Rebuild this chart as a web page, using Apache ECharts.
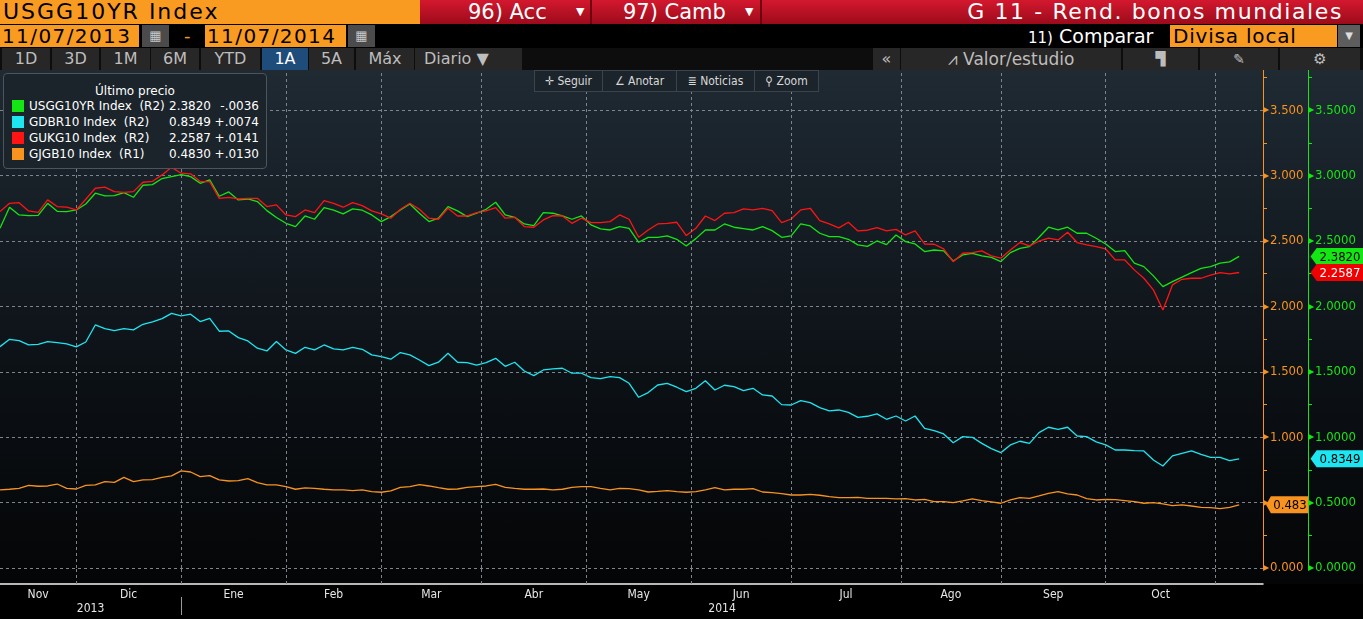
<!DOCTYPE html>
<html>
<head>
<meta charset="utf-8">
<title>G 11 - Rend. bonos mundiales</title>
<script src="https://cdn.jsdelivr.net/npm/echarts@6/dist/echarts.min.js"></script>
<style>
  html, body { margin: 0; padding: 0; background: #000; width: 1363px; height: 619px; overflow: hidden;
    font-family: "DejaVu Sans", sans-serif; }
  .abs { position: absolute; box-sizing: border-box; white-space: pre; }
  .orange { background: #f99b20; color: #000; }
  .tab { top: 48px; height: 22px; background: #272727; color: #bdbdbd; font-size: 16px; line-height: 22px; text-align: center; }
  .tab.on { background: #1e4d7b; color: #fff; }
  .tool { top: 71px; height: 20px; color: #d8d8d8; font-size: 12px; line-height: 20px; text-align: center;
    border-right: 1px solid #3b444c; font-family: "DejaVu Sans Condensed", "DejaVu Sans", sans-serif; }
  #chart { position: absolute; left: 0; top: 70px; width: 1363px; height: 549px;
    background: linear-gradient(to bottom, #1f2a33 0px, #0c1116 300px, #040506 514px, #000 514px, #000 549px); }
  #legend { left: 3px; top: 73px; width: 264px; height: 96px; background: #1b242b; border: 1px solid #4d545a;
    border-radius: 4px; color: #fff; font-size: 12px; z-index: 3; }
  #legend span { position: absolute; white-space: pre; line-height: 16px; }
</style>
</head>
<body>

<!-- header row -->
<div class="abs orange" style="left:0;top:0;width:420px;height:24px;font-size:22px;line-height:24px;padding-left:3px;letter-spacing:2px;">USGG10YR Index</div>
<div class="abs" style="left:420px;top:0;width:943px;height:24px;background:linear-gradient(#d3182e,#9c0b1b);"></div>
<div class="abs" style="left:590px;top:0;width:2px;height:24px;background:#6e0010;"></div>
<div class="abs" style="left:760px;top:0;width:2px;height:24px;background:#6e0010;"></div>
<div class="abs" style="left:468px;top:0;height:24px;color:#fff;font-size:21px;line-height:24px;">96) Acc</div>
<div class="abs" style="left:576px;top:0;height:24px;color:#fff;font-size:11px;line-height:24px;">▼</div>
<div class="abs" style="left:623px;top:0;height:24px;color:#fff;font-size:21px;line-height:24px;">97) Camb</div>
<div class="abs" style="left:745px;top:0;height:24px;color:#fff;font-size:11px;line-height:24px;">▼</div>
<div class="abs" style="left:880px;top:0;width:463px;height:24px;color:#fff;font-size:22px;line-height:24px;text-align:right;letter-spacing:1.6px;">G 11 - Rend. bonos mundiales</div>

<!-- date row -->
<div class="abs orange" style="left:0;top:25px;width:139px;height:22px;font-size:20px;line-height:22px;padding-left:2px;letter-spacing:1.4px;">11/07/2013</div>
<div class="abs" style="left:142px;top:25px;width:27px;height:22px;background:#4b4b4b;color:#c8c8c8;font-size:13px;line-height:22px;text-align:center;">▦</div>
<div class="abs" style="left:184px;top:25px;height:22px;color:#f99b20;font-size:18px;line-height:22px;">-</div>
<div class="abs orange" style="left:205px;top:25px;width:141px;height:22px;font-size:20px;line-height:22px;padding-left:2px;letter-spacing:1.4px;">11/07/2014</div>
<div class="abs" style="left:348px;top:25px;width:27px;height:22px;background:#4b4b4b;color:#c8c8c8;font-size:13px;line-height:22px;text-align:center;">▦</div>
<div class="abs" style="left:1028px;top:25px;height:22px;color:#fff;line-height:22px;"><span style="font-size:15px;">11)</span><span style="font-size:19px;"> Comparar</span></div>
<div class="abs orange" style="left:1170px;top:25px;width:167px;height:22px;font-size:20px;line-height:22px;padding-left:3px;letter-spacing:0.8px;">Divisa local</div>
<div class="abs" style="left:1338px;top:25px;width:22px;height:22px;background:#5d5d5d;color:#ddd;font-size:10px;line-height:22px;text-align:center;">▼</div>

<!-- period tabs -->
<div class="abs" style="left:0;top:48px;width:1363px;height:22px;background:#0d0d0d;"></div>
<div class="abs tab" style="left:2px;width:48px;">1D</div>
<div class="abs tab" style="left:52px;width:47px;">3D</div>
<div class="abs tab" style="left:101px;width:49px;">1M</div>
<div class="abs tab" style="left:151px;width:48px;">6M</div>
<div class="abs tab" style="left:201px;width:59px;">YTD</div>
<div class="abs tab on" style="left:262px;width:46px;">1A</div>
<div class="abs tab" style="left:309px;width:45px;">5A</div>
<div class="abs tab" style="left:356px;width:58px;">Máx</div>
<div class="abs tab" style="left:415px;width:107px;text-align:left;padding-left:9px;">Diario ▼</div>
<div class="abs tab" style="left:873px;width:27px;">«</div>
<div class="abs tab" style="left:901px;width:220px;font-size:17px;">⩘ Valor/estudio</div>
<div class="abs tab" style="left:1123px;width:75px;font-size:13px;">▜</div>
<div class="abs tab" style="left:1200px;width:78px;font-size:14px;">✎</div>
<div class="abs tab" style="left:1280px;width:80px;font-size:15px;">⚙</div>

<div id="chart"></div>

<!-- chart toolbar -->
<div class="abs" style="left:534px;top:70px;width:285px;height:22px;background:#1c242b;border:1px solid #3b444c;z-index:3;"></div>
<div class="abs tool" style="left:535px;width:68px;z-index:4;">✛ Seguir</div>
<div class="abs tool" style="left:603px;width:74px;z-index:4;">∠ Anotar</div>
<div class="abs tool" style="left:677px;width:78px;z-index:4;">≣ Noticias</div>
<div class="abs tool" style="left:755px;width:63px;z-index:4;border-right:none;">⚲ Zoom</div>

<div id="legend" class="abs"></div>

<script>
// 10Y yields, one reading every 2 trading days starting 11/07/2013
const dayStep = 2;
const usYields = [
  2.597, 2.758, 2.699, 2.694, 2.696, 2.788, 2.727, 2.725, 2.737, 2.783, 2.865, 2.844, 2.847, 2.870, 2.834, 2.926, 2.931,
  2.977, 2.992, 3.007, 2.992, 2.941, 2.967, 2.842, 2.875, 2.814, 2.821, 2.801, 2.732, 2.679, 2.635, 2.610, 2.691, 2.666,
  2.755, 2.735, 2.707, 2.745, 2.735, 2.699, 2.648, 2.686, 2.737, 2.783, 2.712, 2.648, 2.674, 2.763, 2.730, 2.686, 2.712,
  2.742, 2.796, 2.699, 2.681, 2.630, 2.618, 2.717, 2.712, 2.691, 2.666, 2.691, 2.623, 2.592, 2.584, 2.610, 2.597,
  2.490, 2.528, 2.528, 2.539, 2.513, 2.462, 2.518, 2.584, 2.584, 2.630, 2.605, 2.595, 2.584, 2.610, 2.579, 2.528,
  2.539, 2.630, 2.615, 2.559, 2.533, 2.533, 2.513, 2.470, 2.459, 2.500, 2.472, 2.546, 2.495, 2.477, 2.419, 2.431,
  2.424, 2.347, 2.393, 2.406, 2.386, 2.375, 2.342, 2.411, 2.444, 2.457, 2.528, 2.605, 2.584, 2.605, 2.559, 2.559,
  2.521, 2.477, 2.419, 2.426, 2.330, 2.304, 2.233, 2.151, 2.189, 2.223, 2.258, 2.291, 2.304, 2.330, 2.340, 2.382
];
const deYields = [
  1.692, 1.748, 1.738, 1.705, 1.710, 1.731, 1.723, 1.713, 1.690, 1.728, 1.858, 1.830, 1.815, 1.830, 1.820, 1.863, 1.881,
  1.906, 1.947, 1.927, 1.940, 1.884, 1.909, 1.810, 1.812, 1.761, 1.736, 1.680, 1.659, 1.731, 1.667, 1.641, 1.687, 1.667,
  1.705, 1.675, 1.667, 1.687, 1.672, 1.629, 1.616, 1.596, 1.647, 1.629, 1.590, 1.547, 1.573, 1.641, 1.573, 1.570, 1.550,
  1.570, 1.603, 1.542, 1.573, 1.506, 1.471, 1.514, 1.522, 1.527, 1.489, 1.489, 1.455, 1.448, 1.463, 1.455, 1.412,
  1.305, 1.341, 1.399, 1.412, 1.382, 1.348, 1.374, 1.432, 1.361, 1.397, 1.387, 1.356, 1.374, 1.323, 1.315, 1.249,
  1.246, 1.280, 1.264, 1.226, 1.201, 1.208, 1.190, 1.152, 1.160, 1.178, 1.137, 1.162, 1.124, 1.162, 1.068, 1.050,
  1.025, 0.958, 1.004, 0.999, 0.953, 0.913, 0.882, 0.941, 0.969, 0.953, 1.035, 1.076, 1.060, 1.076, 1.009, 1.004,
  0.964, 0.941, 0.902, 0.902, 0.897, 0.895, 0.826, 0.780, 0.857, 0.877, 0.895, 0.869, 0.846, 0.846, 0.821, 0.835
];
const ukYields = [
  2.725, 2.788, 2.793, 2.730, 2.719, 2.814, 2.763, 2.758, 2.737, 2.819, 2.903, 2.911, 2.877, 2.872, 2.877, 2.949, 2.956,
  3.005, 3.063, 3.018, 3.013, 2.954, 2.954, 2.826, 2.834, 2.821, 2.826, 2.826, 2.763, 2.776, 2.699, 2.686, 2.737, 2.717,
  2.809, 2.788, 2.758, 2.793, 2.770, 2.730, 2.707, 2.674, 2.742, 2.788, 2.742, 2.674, 2.666, 2.750, 2.691, 2.691, 2.717,
  2.730, 2.755, 2.674, 2.681, 2.610, 2.605, 2.661, 2.694, 2.691, 2.635, 2.674, 2.640, 2.640, 2.648, 2.699, 2.666,
  2.528, 2.584, 2.630, 2.635, 2.643, 2.541, 2.597, 2.691, 2.656, 2.712, 2.717, 2.745, 2.737, 2.750, 2.732, 2.640,
  2.668, 2.737, 2.750, 2.656, 2.630, 2.600, 2.643, 2.577, 2.582, 2.602, 2.577, 2.589, 2.546, 2.577, 2.477, 2.475,
  2.439, 2.342, 2.406, 2.411, 2.424, 2.386, 2.368, 2.431, 2.488, 2.462, 2.498, 2.521, 2.508, 2.567, 2.488, 2.470,
  2.457, 2.439, 2.355, 2.355, 2.279, 2.215, 2.126, 1.973, 2.164, 2.207, 2.215, 2.215, 2.238, 2.258, 2.248, 2.259
];
const jpYields = [
  0.597, 0.602, 0.609, 0.632, 0.625, 0.627, 0.642, 0.609, 0.604, 0.632, 0.635, 0.660, 0.655, 0.693, 0.660, 0.673, 0.676,
  0.693, 0.704, 0.742, 0.734, 0.699, 0.706, 0.673, 0.665, 0.668, 0.683, 0.653, 0.635, 0.635, 0.622, 0.602, 0.612, 0.609,
  0.602, 0.597, 0.597, 0.592, 0.597, 0.584, 0.579, 0.589, 0.617, 0.622, 0.637, 0.627, 0.614, 0.602, 0.604, 0.617, 0.622,
  0.627, 0.640, 0.617, 0.609, 0.602, 0.602, 0.604, 0.597, 0.602, 0.617, 0.622, 0.622, 0.609, 0.597, 0.609, 0.607,
  0.597, 0.581, 0.586, 0.592, 0.584, 0.579, 0.584, 0.597, 0.614, 0.597, 0.602, 0.602, 0.607, 0.581, 0.576, 0.569,
  0.558, 0.558, 0.563, 0.556, 0.546, 0.538, 0.538, 0.540, 0.533, 0.533, 0.533, 0.528, 0.530, 0.520, 0.525, 0.507,
  0.507, 0.500, 0.513, 0.528, 0.515, 0.505, 0.495, 0.520, 0.538, 0.533, 0.551, 0.571, 0.584, 0.566, 0.558, 0.530,
  0.520, 0.525, 0.523, 0.515, 0.507, 0.495, 0.500, 0.490, 0.477, 0.482, 0.474, 0.464, 0.462, 0.454, 0.464, 0.483
];

// legend data
const seriesNames = ["USGG10YR Index", "GDBR10 Index", "GUKG10 Index", "GJGB10 Index"];
const seriesAxes = ["(R2)", "(R2)", "(R2)", "(R1)"];
const lastPrices = ["2.3820", "0.8349", "2.2587", "0.4830"];
const dayChanges = ["-.0036", "+.0074", "+.0141", "+.0130"];
const seriesColors = ["#14e614", "#1ee6f0", "#ff1414", "#f7931e"];

// x axis, in trading days since 11/07/2013
const dayMax = 265;
const monthStarts = [16, 38, 60, 80, 101, 123, 145, 166, 189, 210, 232, 255];
const monthNames = ["Nov", "Dic", "Ene", "Feb", "Mar", "Abr", "May", "Jun", "Jul", "Ago", "Sep", "Oct"];
const yearNames = ["2013", "2014"];
const yearStarts = [0, 38];

const NARROW = "'DejaVu Sans Condensed', 'Liberation Sans Narrow', 'DejaVu Sans', sans-serif";
const GRID_COLOR = "#7d848b";

function buildLegend() {
  let html = `<span style="left:0;width:262px;top:9px;text-align:center;">Último precio</span>`;
  for (let i = 0; i < seriesNames.length; i++) {
    let top = 24 + i * 16;
    html += `<span style="left:8px;top:${top + 2}px;width:12px;height:12px;background:${seriesColors[i]};"></span>`;
    html += `<span style="left:25px;top:${top}px;">${seriesNames[i]}  ${seriesAxes[i]}</span>`;
    html += `<span style="left:150px;width:57px;top:${top}px;text-align:right;">${lastPrices[i]}</span>`;
    html += `<span style="left:205px;width:50px;top:${top}px;text-align:right;">${dayChanges[i]}</span>`;
  }
  document.getElementById("legend").innerHTML = html;
}

function toPoints(values) {
  return values.map((v, i) => [i * dayStep, v]);
}

// price box pinned to the right axes
function priceBox(value, text, color, textColor, width, offsetX) {
  return {
    symbol: "path://M0,8 L7,0 L60,0 L60,16 L7,16 Z",
    symbolSize: [width, 17],
    symbolOffset: [offsetX, 0],
    symbolKeepAspect: false,
    data: [{ coord: [dayMax, value], value: value }],
    itemStyle: { color: color },
    label: {
      show: true,
      position: "inside",
      offset: [3, 1],
      formatter: text,
      color: textColor,
      fontSize: 13,
      fontFamily: NARROW
    }
  };
}

function rightAxis(color, digits, offset, withGrid) {
  return {
    type: "value",
    position: "right",
    offset: offset,
    min: 0,
    max: 3.807,
    interval: 0.5,
    axisLine: { show: true, onZero: false, lineStyle: { color: color, width: 1 } },
    axisTick: { show: false },
    minorTick: { show: true, splitNumber: 2, length: 4, lineStyle: { color: color } },
    axisLabel: {
      showMaxLabel: false,
      margin: 0,
      formatter: function(v) {
        return "{t|▶}{v|" + v.toFixed(digits) + "}";
      },
      rich: {
        t: { color: color, fontSize: 8, padding: [0, 1, 0, 0] },
        v: { color: color, fontSize: 13, fontFamily: NARROW }
      }
    },
    splitLine: {
      show: withGrid,
      showMaxLine: false,
      lineStyle: { color: GRID_COLOR, type: [3, 3], width: 1 }
    }
  };
}

function lineSeries(name, values, color, axis, box) {
  return {
    name: name,
    type: "line",
    yAxisIndex: axis,
    data: toPoints(values),
    symbol: "none",
    lineStyle: { color: color, width: 1.3 },
    itemStyle: { color: color },
    markPoint: box
  };
}

function drawChart() {
  let chart = echarts.init(document.getElementById("chart"));
  let monthMids = monthStarts.map((s, i) => ((i === 0 ? 0 : monthStarts[i - 1]) + s) / 2);
  let yearMids = [(yearStarts[0] + yearStarts[1]) / 2, (yearStarts[1] + dayMax) / 2];

  let option = {
    animation: false,
    backgroundColor: "transparent",
    grid: { left: 0, right: 100, top: 0, bottom: 51 },
    xAxis: [
      {
        type: "value",
        min: 0,
        max: dayMax,
        offset: 16,
        axisLine: { show: true, onZero: false, lineStyle: { color: "#f2f2f2", width: 1.5 } },
        axisTick: {
          show: true,
          inside: true,
          length: 16,
          customValues: monthStarts,
          lineStyle: { color: GRID_COLOR, type: [3, 3] }
        },
        axisLabel: {
          customValues: monthMids,
          margin: 5,
          color: "#e6e6e6",
          fontSize: 12,
          fontFamily: NARROW,
          formatter: function(v) {
            return monthNames[monthMids.indexOf(v)] || "";
          }
        },
        splitLine: { show: false }
      },
      {
        type: "value",
        min: 0,
        max: dayMax,
        position: "bottom",
        offset: 29,
        axisLine: { show: false, onZero: false },
        axisTick: { show: true, length: 18, customValues: [yearStarts[1]], lineStyle: { color: "#9a9a9a" } },
        axisLabel: {
          customValues: yearMids,
          margin: 6,
          color: "#e6e6e6",
          fontSize: 12,
          fontFamily: NARROW,
          formatter: function(v) {
            return yearNames[yearMids.indexOf(v)] || "";
          }
        },
        splitLine: { show: false }
      }
    ],
    yAxis: [rightAxis("#f7931e", 3, 0, true), rightAxis("#14e614", 4, 45, false)],
    series: [
      lineSeries(seriesNames[0], usYields, seriesColors[0], 1,
        priceBox(2.382, lastPrices[0], seriesColors[0], "#000", 53, 74)),
      lineSeries(seriesNames[1], deYields, seriesColors[1], 1,
        priceBox(0.8349, lastPrices[1], seriesColors[1], "#000", 53, 74)),
      lineSeries(seriesNames[2], ukYields, seriesColors[2], 1,
        priceBox(2.2587, lastPrices[2], "#f00000", "#fff", 53, 74)),
      lineSeries(seriesNames[3], jpYields, seriesColors[3], 0,
        priceBox(0.483, "0.483", seriesColors[3], "#000", 42, 24))
    ]
  };

  // month gridlines
  option.series[0].markLine = {
    silent: true,
    symbol: "none",
    label: { show: false },
    lineStyle: { color: GRID_COLOR, type: [3, 3], width: 1 },
    data: monthStarts.map(d => ({ xAxis: d }))
  };

  chart.setOption(option);
}

buildLegend();
drawChart();
</script>
</body>
</html>
